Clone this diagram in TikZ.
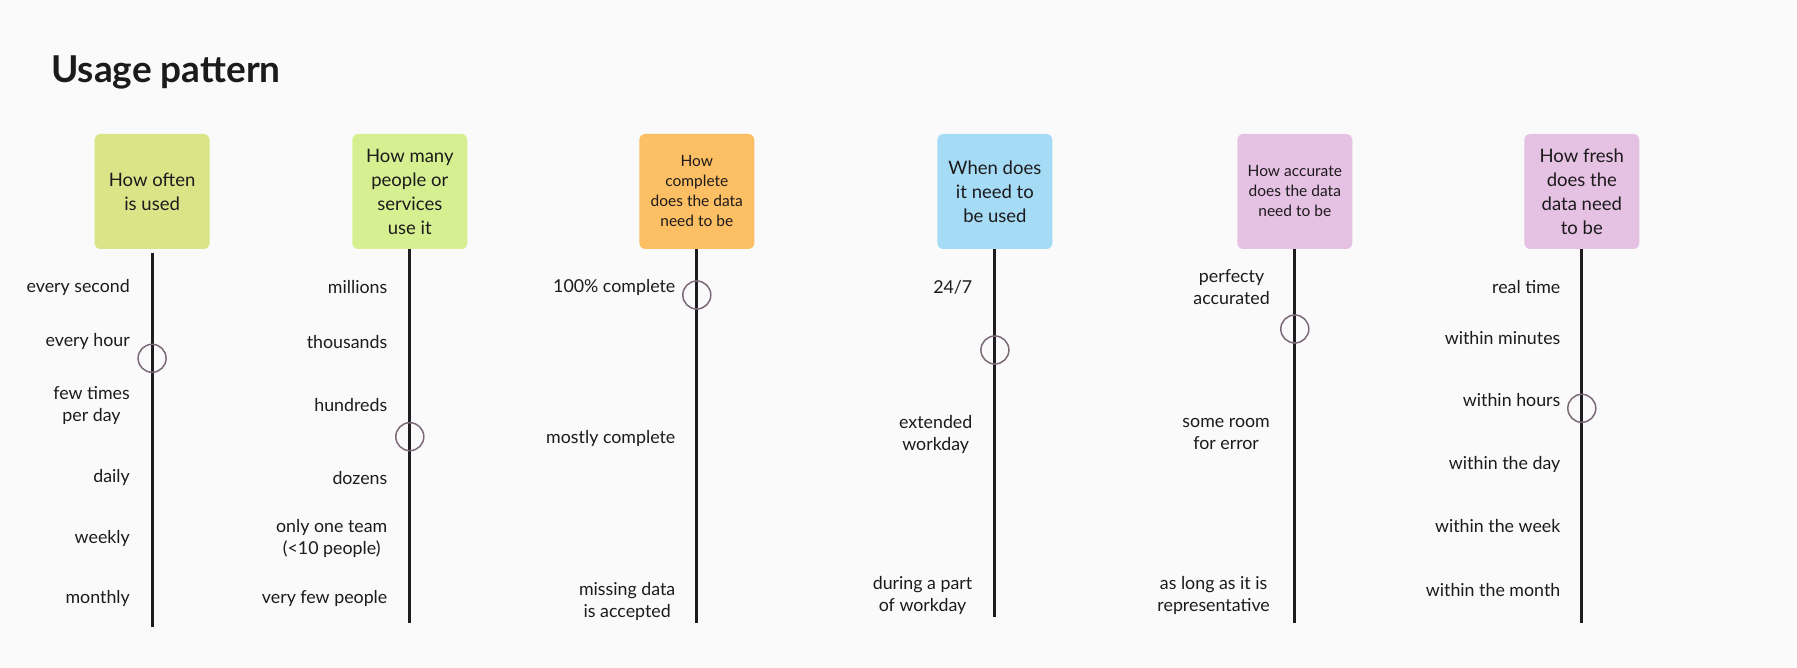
\documentclass[tikz,border=0pt]{standalone}
\usepackage{fontspec}
\setmainfont{Lato}
\definecolor{bg}{HTML}{FAFAFB}
\definecolor{txt}{HTML}{1C1A1C}
\definecolor{lin}{HTML}{1F1B1E}
\definecolor{circ}{HTML}{7D6A78}
\definecolor{cA}{HTML}{DBE487}
\definecolor{cB}{HTML}{D6F091}
\definecolor{cC}{HTML}{FDBF63}
\definecolor{cD}{HTML}{A5DBF5}
\definecolor{cE}{HTML}{E5C1E3}
\begin{document}
\begin{tikzpicture}[x=1pt,y=-1pt,
  box/.style={rounded corners=6pt, minimum width=115pt, minimum height=115pt, inner sep=0pt, align=center, text=txt},
  big/.style={font=\fontsize{18.5}{24}\selectfont},
  small/.style={font=\fontsize{15.5}{20}\selectfont},
  lab/.style={anchor=east, align=center, font=\fontsize{17.8}{22}\selectfont, text=txt, inner sep=0pt},
  selmark/.style={circle, draw=circ, line width=1.5pt, minimum size=28pt, inner sep=0pt},
  axis/.style={line width=3pt, draw=lin}]
\fill[bg] (0,0) rectangle (1797,668);
\useasboundingbox (0,0) rectangle (1797,668);

\node[anchor=base west, inner sep=0pt, text=txt, font=\fontsize{37}{42}\selectfont\bfseries] (title) at (51,83) {Usage pattern};

% boxes
\node[box, big, fill=cA] (b1) at (152.1,191.5) {How often\\is used};
\node[box, big, fill=cB] (b2) at (409.8,191.5) {How many\\people or\\services\\use it};
\node[box, small, fill=cC] (b3) at (696.8,191.5) {How\\complete\\does the data\\need to be};
\node[box, big, fill=cD] (b4) at (994.9,191.5) {When does\\it need to\\be used};
\node[box, small, fill=cE] (b5) at (1294.8,191.5) {How accurate\\does the data\\need to be};
\node[box, big, fill=cE] (b6) at (1581.8,191.5) {How fresh\\does the\\data need\\to be};

% axis ends
\coordinate (t1) at (152.1,253);
\coordinate (e1) at (152.1,626.7);
\coordinate (e2) at (409.8,623.3);
\coordinate (e3) at (696.8,623.3);
\coordinate (e4) at (994.9,617.3);
\coordinate (e5) at (1294.8,623.3);
\coordinate (e6) at (1581.8,623.3);
\draw[axis] (t1) -- (e1);
\draw[axis] (b2.south) -- (e2);
\draw[axis] (b3.south) -- (e3);
\draw[axis] (b4.south) -- (e4);
\draw[axis] (b5.south) -- (e5);
\draw[axis] (b6.south) -- (e6);

% column 1
\node[lab] (l11) at (130,287) {every second};
\node[lab] (l12) at (130,341.7) {every hour};
\node[lab] (l13) at (130,405.8) {few times\\per day};
\node[lab] (l14) at (130,477.7) {daily};
\node[lab] (l15) at (130,538.3) {weekly};
\node[lab] (l16) at (130,598.3) {monthly};
\node[selmark] (m1) at (152.1,358.3) {};

% column 2
\node[lab] (l21) at (387.5,287) {millions};
\node[lab] (l22) at (387.5,341.7) {thousands};
\node[lab] (l23) at (387.5,405.3) {hundreds};
\node[lab] (l24) at (387.5,477.7) {dozens};
\node[lab] (l25) at (387.5,538) {only one team\\(<10 people)};
\node[lab] (l26) at (387.5,598.3) {very few people};
\node[selmark] (m2) at (409.8,436.7) {};

% column 3
\node[lab] (l31) at (675.5,287) {100\% complete};
\node[lab] (l32) at (675.5,438) {mostly complete};
\node[lab] (l33) at (675.5,601.5) {missing data\\is accepted};
\node[selmark] (m3) at (696.8,295) {};

% column 4
\node[lab] (l41) at (972.5,287) {24/7};
\node[lab] (l42) at (972.5,434.2) {extended\\workday};
\node[lab] (l43) at (972.5,595.7) {during a part\\of workday};
\node[selmark] (m4) at (994.9,350) {};

% column 5
\node[lab] (l51) at (1270,287) {perfecty\\accurated};
\node[lab] (l52) at (1270,434.3) {some room\\for error};
\node[lab] (l53) at (1270,595.7) {as long as it is\\representative};
\node[selmark] (m5) at (1294.8,329) {};

% column 6
\node[lab] (l61) at (1560.5,286.7) {real time};
\node[lab] (l62) at (1560.5,338.3) {within minutes};
\node[lab] (l63) at (1560.5,400.5) {within hours};
\node[lab] (l64) at (1560.5,464.7) {within the day};
\node[lab] (l65) at (1560.5,526.3) {within the week};
\node[lab] (l66) at (1560.5,589.7) {within the month};
\node[selmark] (m6) at (1581.8,408.3) {};
\end{tikzpicture}
\end{document}
